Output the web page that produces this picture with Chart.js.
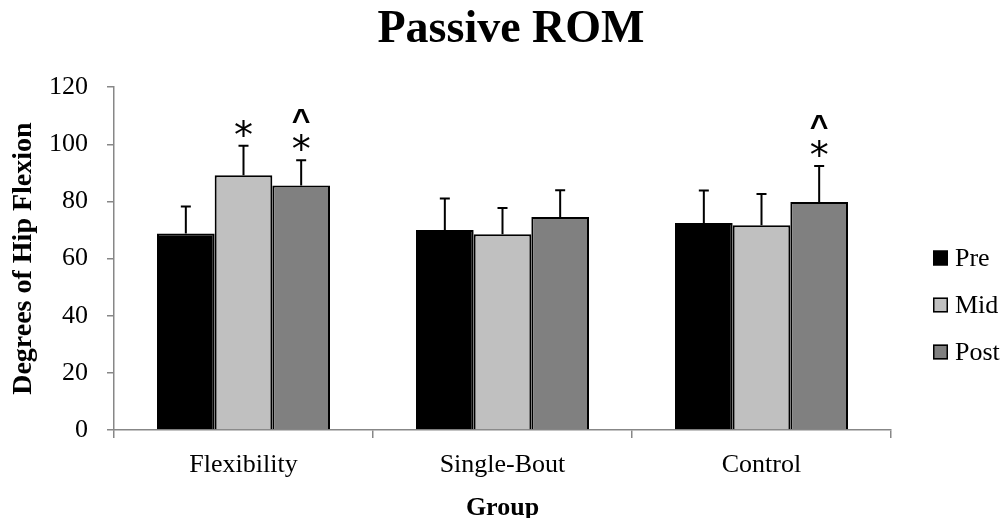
<!DOCTYPE html>
<html><head><meta charset="utf-8">
<script src="https://cdn.jsdelivr.net/npm/chart.js@4.4.1/dist/chart.umd.min.js"></script>
<style>html,body{margin:0;padding:0;background:#fff}#wrap{width:1007px;height:518px;position:relative}</style>
</head><body><div id="wrap"><canvas id="c" width="1007" height="518"></canvas></div>
<script>
const categories = ['Flexibility', 'Single-Bout', 'Control'];
const seriesNames = ['Pre', 'Mid', 'Post'];
const preValues = [68.8, 70.0, 72.5];
const midValues = [89.2, 68.5, 71.7];
const postValues = [85.6, 74.6, 79.8];
const preErrors = [9.4, 11.0, 11.3];
const midErrors = [10.3, 9.2, 10.9];
const postErrors = [8.8, 9.3, 12.6];
const preMarks = ['', '', ''];
const midMarks = ['*', '', ''];
const postMarks = ['*^', '', '*^'];
const yTicks = [0, 20, 40, 60, 80, 100, 120];

const AXIS = '#878787';
const SERIF = "'Liberation Serif', 'Times New Roman', serif";

const errorBars = {
  id: 'errorBars',
  afterDatasetsDraw(chart) {
    const ctx = chart.ctx;
    const ys = chart.scales.y;
    chart.data.datasets.forEach((ds, i) => {
      const meta = chart.getDatasetMeta(i);
      meta.data.forEach((bar, j) => {
        const v = ds.data[j], e = ds.errors[j];
        const yTop = ys.getPixelForValue(v + e);
        ctx.save();
        ctx.strokeStyle = '#000';
        ctx.lineWidth = 2;
        ctx.beginPath();
        ctx.moveTo(bar.x, bar.y);
        ctx.lineTo(bar.x, yTop);
        ctx.moveTo(bar.x - 5, yTop);
        ctx.lineTo(bar.x + 5, yTop);
        ctx.stroke();
        const m = ds.marks[j] || '';
        ctx.fillStyle = '#000';
        ctx.textAlign = 'center';
        ctx.textBaseline = 'alphabetic';
        if (m.includes('*')) {
          ctx.font = "38px 'DejaVu Sans', sans-serif";
          ctx.fillText('*', bar.x, yTop + 2);
        }
        if (m.includes('^')) {
          ctx.textBaseline = 'middle';
          ctx.font = "bold 32px 'Liberation Sans', Arial, sans-serif";
          ctx.fillText('^', bar.x, yTop - 38);
        }
        ctx.restore();
      });
    });
  }
};

const customLegend = {
  id: 'customLegend',
  afterDraw(chart) {
    const ctx = chart.ctx;
    const x0 = 933, yc0 = 258, gap = 47, sz = 15;
    chart.data.datasets.forEach((ds, i) => {
      const yc = yc0 + i * gap;
      ctx.save();
      ctx.fillStyle = ds.backgroundColor;
      ctx.fillRect(x0, yc - sz / 2, sz, sz);
      ctx.strokeStyle = '#000';
      ctx.lineWidth = 1.5;
      ctx.strokeRect(x0 + 0.75, yc - sz / 2 + 0.75, sz - 1.5, sz - 1.5);
      ctx.fillStyle = '#000';
      ctx.font = "26px " + SERIF;
      ctx.textAlign = 'left';
      ctx.textBaseline = 'middle';
      ctx.fillText(ds.label, 955, yc + 1);
      ctx.restore();
    });
  }
};

new Chart(document.getElementById('c'), {
  type: 'bar',
  data: {
    labels: categories,
    datasets: [
      { label: seriesNames[0], data: preValues, errors: preErrors, marks: preMarks, backgroundColor: '#000000', borderColor: '#000', borderWidth: 2 },
      { label: seriesNames[1], data: midValues, errors: midErrors, marks: midMarks, backgroundColor: '#c0c0c0', borderColor: '#000', borderWidth: 2 },
      { label: seriesNames[2], data: postValues, errors: postErrors, marks: postMarks, backgroundColor: '#808080', borderColor: '#000', borderWidth: 2 }
    ]
  },
  options: {
    responsive: false,
    animation: false,
    devicePixelRatio: 1,
    categoryPercentage: 0.668,
    barPercentage: 1.0,
    layout: { padding: { left: 15, right: 0, top: 0, bottom: 0 } },
    plugins: {
      legend: { display: false },
      tooltip: { enabled: false },
      title: {
        display: true, text: 'Passive ROM', color: '#000',
        font: { family: SERIF, size: 46, weight: 'bold' },
        padding: { top: 3, bottom: 29 }
      }
    },
    scales: {
      x: {
        offset: true,
        grid: { display: true, drawOnChartArea: false, offset: true, tickLength: 8, color: AXIS, lineWidth: 1.5 },
        border: { color: AXIS, width: 1.5 },
        ticks: { color: '#000', font: { family: SERIF, size: 26 }, padding: 12 },
        title: { display: true, text: 'Group', color: '#000', font: { family: SERIF, size: 26, weight: 'bold' }, padding: { top: 0, bottom: -6 } },
        afterFit(s) { s.height = 88; }
      },
      y: {
        min: 0, max: 120,
        afterBuildTicks(s) { s.ticks = yTicks.map(v => ({ value: v })); },
        grid: { display: true, drawOnChartArea: false, tickLength: 7, color: AXIS, lineWidth: 1.5 },
        border: { color: AXIS, width: 1.5 },
        ticks: { color: '#000', font: { family: SERIF, size: 26 }, padding: 19 },
        title: { display: true, text: 'Degrees of Hip Flexion', color: '#000', font: { family: SERIF, size: 28, weight: 'bold' }, padding: { top: -8, bottom: 0 } },
        afterFit(s) { s.width = 99; }
      },
      legendSpace: {
        position: 'right',
        display: true,
        min: 0, max: 1,
        grid: { display: false, drawTicks: false },
        border: { display: false },
        ticks: { display: false },
        afterFit(s) { s.width = 116; }
      }
    }
  },
  plugins: [errorBars, customLegend]
});
</script></body></html>
